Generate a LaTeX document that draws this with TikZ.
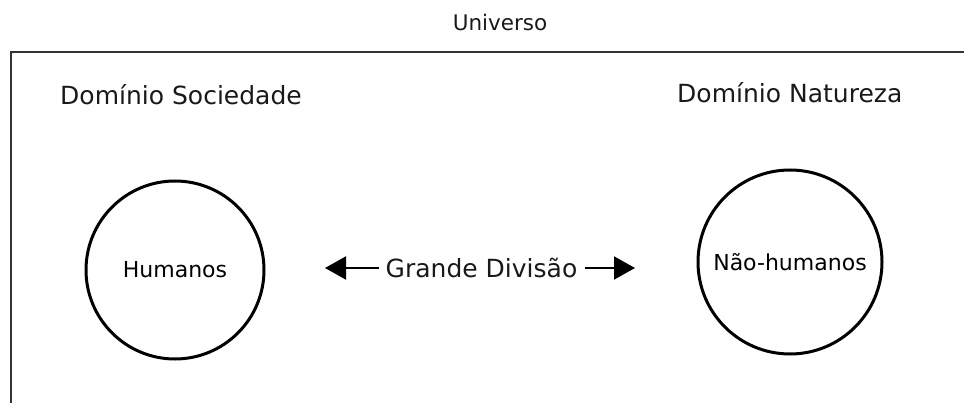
\documentclass[tikz,border=0pt]{standalone}
\usepackage{fontspec}
\setmainfont{DejaVu Sans}
\usetikzlibrary{arrows.meta}
\begin{document}
\begin{tikzpicture}[x=1pt,y=-1pt,
  label text/.style={inner sep=0pt, text=black!90},
  domain circle/.style={circle, draw=black, line width=3pt, minimum size=#1, inner sep=0pt},
  divide arrow/.style={line width=2pt, -{Triangle[length=21pt,width=23pt]}}]
  \useasboundingbox (0,0) rectangle (964,403);
  % universe frame, running off the right and bottom edges
  \begin{scope}
    \clip (0,0) rectangle (964,403);
    \node[draw=black!80, line width=2pt, minimum width=1000pt, minimum height=400pt,
          anchor=north west, inner sep=0pt] (frame) at (10,51) {};
  \end{scope}
  \node[label text, font=\fontsize{21.5}{24}\selectfont] (universo) at (500,22) {Universo};
  \node[label text, font=\fontsize{25}{28}\selectfont, anchor=west] (soc) at (60,95) {Domínio Sociedade};
  \node[label text, font=\fontsize{25}{28}\selectfont, anchor=west] (nat) at (677,93) {Domínio Natureza};
  % the two domains
  \node[domain circle=178pt, font=\fontsize{22}{24}\selectfont] (hum) at (175,270) {Humanos};
  \node[domain circle=184pt, font=\fontsize{22}{24}\selectfont] (nhum) at (790,262) {Não-humanos};
  % the great divide
  \node[label text, font=\fontsize{25}{28}\selectfont] (gd) at (481.5,268) {Grande Divisão};
  \coordinate (ltip) at (325,268);
  \coordinate (rtip) at (635,268);
  \draw[divide arrow] ([xshift=-7pt]gd.west) -- (ltip);
  \draw[divide arrow] ([xshift=7pt]gd.east) -- (rtip);
\end{tikzpicture}
\end{document}
